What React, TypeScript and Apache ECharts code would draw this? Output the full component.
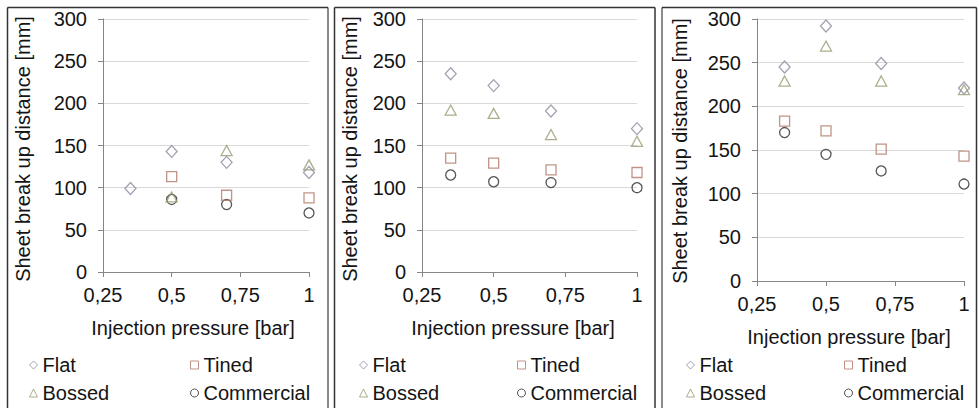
import React, { useEffect, useRef } from "react";
import * as echarts from "echarts";

const xValues = [0.35, 0.5, 0.7, 1.0];
const seriesNames = ["Flat", "Tined", "Bossed", "Commercial"];

const flat1 = [99, 143, 130, 118];
const tined1 = [null, 113, 91, 88];
const bossed1 = [null, 89, 144, 127];
const commercial1 = [null, 86, 80, 70];

const flat2 = [235, 221, 191, 170];
const tined2 = [135, 129, 121, 118];
const bossed2 = [192, 188, 163, 155];
const commercial2 = [115, 107, 106, 100];

const flat3 = [245, 292, 249, 221];
const tined3 = [183, 172, 151, 143];
const bossed3 = [229, 269, 229, 219];
const commercial3 = [170, 145, 126, 111];

const xTicks = [0.25, 0.5, 0.75, 1];
const yTicks = [0, 50, 100, 150, 200, 250, 300];

const xTitle = "Injection pressure [bar]";
const yTitle = "Sheet break up distance [mm]";

const FONT = "Liberation Sans, Arial, sans-serif";
const TEXT = "#141414";
const FS = 20;

const styles: Record<string, { symbol: string; size: number | number[]; color: string }> = {
  Flat: { symbol: "diamond", size: [11, 12], color: "#8a8a9e" },
  Tined: { symbol: "rect", size: 10, color: "#b07868" },
  Bossed: { symbol: "triangle", size: [11, 10], color: "#9a9a72" },
  Commercial: { symbol: "circle", size: 10, color: "#2a2a2a" },
};

const panels = [
  { data: [flat1, tined1, bossed1, commercial1], grid: { left: 103, top: 19, width: 206, height: 253 } },
  { data: [flat2, tined2, bossed2, commercial2], grid: { left: 422, top: 19, width: 215, height: 253 } },
  { data: [flat3, tined3, bossed3, commercial3], grid: { left: 757, top: 19, width: 207, height: 262 } },
];

const xTitlePos = [
  { x: 193, y: 328 },
  { x: 513, y: 328 },
  { x: 849, y: 337 },
];
const yTitlePos = [
  { x: 23, y: 149 },
  { x: 350, y: 149 },
  { x: 680, y: 151 },
];
const legendPos = [
  { c1: 33, c2: 194, r1: 366, r2: 394 },
  { c1: 363, c2: 521, r1: 366, r2: 394 },
  { c1: 690, c2: 848, r1: 366, r2: 394 },
];

const fmt = (v: number) => String(v).replace(".", ",");

export default function App() {
  const ref = useRef<HTMLDivElement>(null);
  useEffect(() => {
    if (!ref.current) return;
    const chart = echarts.init(ref.current, null, { renderer: "svg" });

    const grids: any[] = [];
    const xAxes: any[] = [];
    const yAxes: any[] = [];
    const series: any[] = [];
    const legends: any[] = [];
    const graphics: any[] = [];

    panels.forEach((p, i) => {
      grids.push({ ...p.grid, containLabel: false });
      xAxes.push({
        type: "value",
        gridIndex: i,
        min: xTicks[0],
        max: xTicks[xTicks.length - 1],
        interval: 0.25,
        axisLine: { show: true, onZero: false, lineStyle: { color: "#868686", width: 1 } },
        axisTick: { show: true, length: 5, lineStyle: { color: "#868686" } },
        splitLine: { show: false },
        axisLabel: { formatter: fmt, fontSize: FS, color: TEXT, fontFamily: FONT, margin: 13 },
      });
      yAxes.push({
        type: "value",
        gridIndex: i,
        min: yTicks[0],
        max: yTicks[yTicks.length - 1],
        interval: 50,
        axisLine: { show: true, lineStyle: { color: "#868686", width: 1 } },
        axisTick: { show: true, length: 5, lineStyle: { color: "#868686" } },
        splitLine: { show: true, lineStyle: { color: "#d9d9d9", width: 1 } },
        axisLabel: { fontSize: FS, color: TEXT, fontFamily: FONT, margin: 16 },
      });
      seriesNames.forEach((name, k) => {
        const st = styles[name];
        series.push({
          type: "scatter",
          name,
          xAxisIndex: i,
          yAxisIndex: i,
          symbol: st.symbol,
          symbolSize: st.size,
          itemStyle: { color: "rgba(255,255,255,0)", borderColor: st.color, borderWidth: 1.3 },
          data: xValues
            .map((x, j) => [x, p.data[k][j]])
            .filter((d) => d[1] !== null),
          z: 10 - k,
        });
      });
      const lp = legendPos[i];
      const place = [
        { name: "Flat", c: lp.c1, r: lp.r1 },
        { name: "Tined", c: lp.c2, r: lp.r1 },
        { name: "Bossed", c: lp.c1, r: lp.r2 },
        { name: "Commercial", c: lp.c2, r: lp.r2 },
      ];
      place.forEach((pl) => {
        const st = styles[pl.name];
        legends.push({
          left: pl.c - 4,
          top: pl.r - 11,
          padding: 0,
          itemWidth: 8,
          itemHeight: 8,
          itemGap: 0,
          selectedMode: false,
          textStyle: { fontSize: FS, color: TEXT, fontFamily: FONT, padding: [0, 0, 0, 0] },
          data: [
            {
              name: pl.name,
              icon: st.symbol,
              itemStyle: { color: "rgba(255,255,255,0)", borderColor: st.color, borderWidth: 1 },
            },
          ],
        });
      });
      graphics.push({
        type: "text",
        x: xTitlePos[i].x,
        y: xTitlePos[i].y,
        style: { text: xTitle, fontSize: FS, fill: TEXT, fontFamily: FONT, align: "center", verticalAlign: "middle" },
      });
      graphics.push({
        type: "text",
        x: yTitlePos[i].x,
        y: yTitlePos[i].y,
        rotation: Math.PI / 2,
        style: { text: yTitle, fontSize: FS, fill: TEXT, fontFamily: FONT, align: "center", verticalAlign: "middle" },
      });
    });

    const borders = [
      { x: 7.5, color: "#333", w: 1.5 },
      { x: 328, color: "#8a8a8a", w: 2 },
      { x: 334.5, color: "#333", w: 1.5 },
      { x: 655, color: "#333", w: 1.5 },
      { x: 662, color: "#8a8a8a", w: 2 },
      { x: 976.5, color: "#333", w: 1.5 },
    ];
    borders.forEach((b) => {
      graphics.push({
        type: "line",
        shape: { x1: b.x, y1: 7.5, x2: b.x, y2: 420 },
        style: { stroke: b.color, lineWidth: b.w },
        silent: true,
      });
    });
    [
      [7.5, 328],
      [334.5, 655],
      [662, 976.5],
    ].forEach(([a, b]) => {
      graphics.push({
        type: "line",
        shape: { x1: a, y1: 7.5, x2: b, y2: 7.5 },
        style: { stroke: "#333", lineWidth: 1.5 },
        silent: true,
      });
    });

    chart.setOption({
      animation: false,
      backgroundColor: "#ffffff",
      grid: grids,
      xAxis: xAxes,
      yAxis: yAxes,
      legend: legends,
      series,
      graphic: graphics,
    });
    return () => chart.dispose();
  }, []);
  return (
    <div
      ref={ref}
      style={{ position: "absolute", left: 0, top: 0, width: 979, height: 408 }}
    />
  );
}
